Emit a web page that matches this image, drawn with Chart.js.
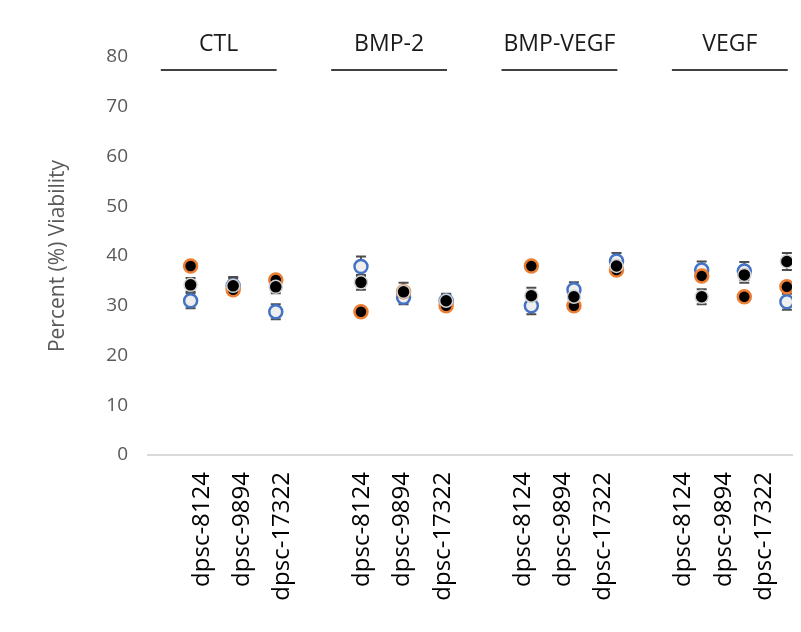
<!DOCTYPE html>
<html>
<head>
<meta charset="utf-8">
<script src="https://cdn.jsdelivr.net/npm/chart.js@4/dist/chart.umd.min.js"></script>
<style>
  html, body { margin: 0; padding: 0; background: #ffffff; }
</style>
</head>
<body>
<canvas id="viability-chart" width="801" height="632"></canvas>
<script>
// groups / strains
var groups = ['CTL', 'BMP-2', 'BMP-VEGF', 'VEGF'];
var strains = ['dpsc-8124', 'dpsc-9894', 'dpsc-17322'];
var yTicks = [0, 10, 20, 30, 40, 50, 60, 70, 80];

// values read per group, in strain order (CTL x3, BMP-2 x3, BMP-VEGF x3, VEGF x3)
var blackVals = [34.2, 34.0, 33.8, 34.7, 32.8, 31.0, 32.0, 31.8, 38.0, 31.8, 36.2, 38.9];
var blackErr  = [1.4, 1.8, 1.3, 1.5, 1.8, 1.4, 1.6, 1.6, 1.3, 1.5, 1.6, 1.7];
var orangeVals = [38.0, 33.2, 35.2, 28.8, 32.8, 30.0, 38.0, 30.0, 37.2, 36.0, 31.8, 33.8];
var orangeErr  = [0.6, 0.6, 0.6, 0.6, 0.6, 0.6, 0.6, 0.6, 0.6, 0.6, 0.6, 0.6];
var blueVals = [31.0, 34.0, 28.8, 37.9, 31.7, 31.0, 30.0, 33.2, 39.0, 37.2, 37.0, 30.8];
var blueErr  = [1.5, 1.5, 1.5, 2.0, 1.4, 1.3, 1.7, 1.5, 1.6, 1.7, 1.8, 1.6];

// slot index of each point: one empty slot before every group
var slots = [];
groups.forEach(function (g, gi) {
  strains.forEach(function (s, si) { slots.push(1 + gi * 4 + si); });
});
var tickNames = [];
groups.forEach(function () { strains.forEach(function (s) { tickNames.push(s); }); });

function pts(vals) {
  return vals.map(function (v, i) { return { x: slots[i], y: v }; });
}

var errorBars = {
  id: 'errorBars',
  beforeDatasetsDraw: function (chart) {
    var ctx = chart.ctx, ys = chart.scales.y;
    ctx.save();
    ctx.strokeStyle = '#4d4d4d';
    ctx.lineWidth = 2;
    chart.data.datasets.forEach(function (ds, di) {
      var meta = chart.getDatasetMeta(di);
      meta.data.forEach(function (pt, i) {
        var e = ds.errors[i], v = ds.data[i].y;
        var top = ys.getPixelForValue(v + e), bot = ys.getPixelForValue(v - e);
        ctx.beginPath();
        ctx.moveTo(pt.x, top); ctx.lineTo(pt.x, bot);
        ctx.moveTo(pt.x - 5, top); ctx.lineTo(pt.x + 5, top);
        ctx.moveTo(pt.x - 5, bot); ctx.lineTo(pt.x + 5, bot);
        ctx.stroke();
      });
    });
    ctx.restore();
  }
};

var groupHeaders = {
  id: 'groupHeaders',
  afterDraw: function (chart) {
    var ctx = chart.ctx, xs = chart.scales.x;
    ctx.save();
    groups.forEach(function (g, gi) {
      var x1 = xs.getPixelForValue(1 + gi * 4 - 0.7);
      var x2 = xs.getPixelForValue(3 + gi * 4 + 0.02);
      ctx.strokeStyle = '#404040';
      ctx.lineWidth = 2;
      ctx.beginPath();
      ctx.moveTo(x1, 70); ctx.lineTo(x2, 70);
      ctx.stroke();
      ctx.fillStyle = '#1a1a1a';
      ctx.font = '23px "Open Sans"';
      ctx.textAlign = 'center';
      ctx.textBaseline = 'middle';
      ctx.fillText(g, (x1 + x2) / 2, 44);
    });
    ctx.restore();
  }
};

new Chart(document.getElementById('viability-chart'), {
  type: 'scatter',
  data: {
    datasets: [
      {
        label: 'black',
        data: pts(blackVals),
        errors: blackErr,
        pointRadius: 6.5,
        pointBackgroundColor: '#000000',
        pointBorderColor: '#d0d0d0',
        pointBorderWidth: 1.5
      },
      {
        label: 'orange',
        data: pts(orangeVals),
        errors: orangeErr,
        pointRadius: 6.5,
        pointBackgroundColor: '#000000',
        pointBorderColor: '#ED7D31',
        pointBorderWidth: 2.5
      },
      {
        label: 'blue',
        data: pts(blueVals),
        errors: blueErr,
        pointRadius: 6.5,
        pointBackgroundColor: '#eeeeee',
        pointBorderColor: '#4472C4',
        pointBorderWidth: 2.5
      }
    ]
  },
  options: {
    responsive: false,
    animation: false,
    layout: { padding: { top: 57, left: 0, right: 0, bottom: 0 } },
    plugins: {
      legend: { display: false },
      tooltip: { enabled: false }
    },
    scales: {
      x: {
        type: 'linear',
        display: false,
        min: 0,
        max: 15.12
      },
      xl: {
        type: 'linear',
        position: 'bottom',
        min: -0.343,
        max: 15.7,
        grid: { display: false, drawTicks: false },
        border: { display: true, color: '#d9d9d9', width: 2 },
        afterBuildTicks: function (scale) {
          scale.ticks = slots.map(function (v) { return { value: v }; });
        },
        afterFit: function (scale) {
          scale.height = 177;
          scale.paddingLeft = 0;
          scale.paddingRight = 0;
        },
        ticks: {
          autoSkip: false,
          minRotation: 90,
          maxRotation: 90,
          padding: 17,
          color: '#000000',
          font: { family: '"Open Sans"', size: 24 },
          callback: function (value) {
            var i = slots.indexOf(value);
            return i >= 0 ? tickNames[i] : '';
          }
        }
      },
      y: {
        min: 0,
        max: 80,
        grid: { display: false, drawTicks: false },
        border: { display: false },
        afterBuildTicks: function (scale) {
          scale.ticks = yTicks.map(function (v) { return { value: v }; });
        },
        afterFit: function (scale) { scale.width = 148; },
        ticks: {
          padding: 20,
          color: '#595959',
          font: { family: '"Open Sans"', size: 19 }
        },
        title: {
          display: true,
          text: 'Percent (%) Viability',
          color: '#595959',
          font: { family: '"Open Sans"', size: 21 },
          padding: { top: 45, bottom: 0 }
        }
      }
    }
  },
  plugins: [errorBars, groupHeaders]
});
</script>
</body>
</html>
